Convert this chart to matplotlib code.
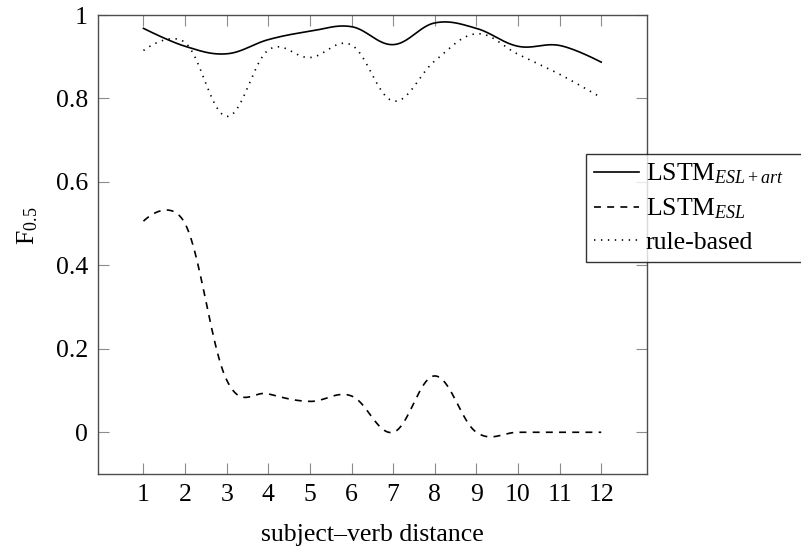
import numpy as np
import matplotlib
matplotlib.use("Agg")
import matplotlib.pyplot as plt

plt.rcParams['font.family'] = ['Liberation Serif', 'DejaVu Serif']
plt.rcParams['mathtext.fontset'] = 'custom'
plt.rcParams['mathtext.rm'] = 'Liberation Serif'
plt.rcParams['mathtext.it'] = 'Liberation Serif:italic'
plt.rcParams['lines.scale_dashes'] = False

# data
distance = [1, 2, 3, 4, 5, 6, 7, 8, 9, 10, 11, 12]
lstm_esl_art = [0.968, 0.925, 0.907, 0.941, 0.961, 0.972, 0.929, 0.981, 0.968, 0.925, 0.927, 0.887]
lstm_esl = [0.506, 0.500, 0.125, 0.092, 0.074, 0.087, 0.0, 0.135, 0.0, 0.0, 0.0, 0.0]
rule_based = [0.915, 0.934, 0.757, 0.916, 0.898, 0.928, 0.794, 0.890, 0.955, 0.906, 0.858, 0.802]
labels = [r'LSTM$_{ESL+art}$', r'LSTM$_{ESL}$', 'rule-based']

FS = 18.5


def tikz_smooth(x, y, tension=0.55, n=40):
    # same curve as tikz "smooth": bezier segments, tangent from neighbours
    p = np.column_stack([x, y]).astype(float)
    f = tension / 3.0
    out = [p[:1]]
    t = np.linspace(0, 1, n)[1:, None]
    for i in range(len(p) - 1):
        c1 = p[i] if i == 0 else p[i] + f * (p[i + 1] - p[i - 1])
        c2 = p[i + 1] if i == len(p) - 2 else p[i + 1] - f * (p[i + 2] - p[i])
        seg = ((1 - t) ** 3) * p[i] + 3 * ((1 - t) ** 2) * t * c1 \
            + 3 * (1 - t) * t ** 2 * c2 + t ** 3 * p[i + 1]
        out.append(seg)
    out = np.vstack(out)
    return out[:, 0], out[:, 1]


fig = plt.figure(figsize=(8.01, 5.47), dpi=100)
ax = fig.add_axes([97.7 / 801, 1 - 474 / 547, (647 - 97.7) / 801, (474 - 15) / 547])

styles = [dict(ls='-'), dict(dashes=(5.0, 4.5)), dict(dashes=(1.0, 4.0))]
for vals, lab, st in zip([lstm_esl_art, lstm_esl, rule_based], labels, styles):
    sx, sy = tikz_smooth(distance, vals)
    ax.plot(sx, sy, color='black', lw=1.2, label=lab, **st)

ax.set_xlim(-0.1, 13.1)
ax.set_ylim(-0.1, 1.0)
ax.set_xticks(distance)
ax.set_yticks([0, 0.2, 0.4, 0.6, 0.8, 1.0])
ax.set_yticklabels(['0', '0.2', '0.4', '0.6', '0.8', '1'])
ax.tick_params(direction='in', top=True, right=True, length=8, width=0.8,
               color='0.55', labelsize=FS)
ax.tick_params(axis='x', pad=7.5)
ax.tick_params(axis='y', pad=7)
for sp in ax.spines.values():
    sp.set_color('0.3')
    sp.set_linewidth(1.0)

ax.set_xlabel('subject\u2013verb distance', fontsize=FS)
ax.xaxis.set_label_coords(0.5, -0.108)
ax.set_ylabel(r'F$_{0.5}$', fontsize=FS)
ax.yaxis.set_label_coords(-0.105, 0.54)

# legend box runs past the right edge of the figure, as in the reference
x0 = 586 / 801
leg = fig.legend(loc='upper left', bbox_to_anchor=(x0, 1 - 154 / 547, 1.03 - x0, 0.0),
                 mode='expand', fontsize=FS, frameon=True, fancybox=False,
                 handlelength=1.75, handletextpad=0.27, borderpad=0.3,
                 labelspacing=0.4, borderaxespad=0)
leg.get_frame().set_edgecolor('black')
leg.get_frame().set_linewidth(1.0)

fig.savefig('out.png', dpi=100)
